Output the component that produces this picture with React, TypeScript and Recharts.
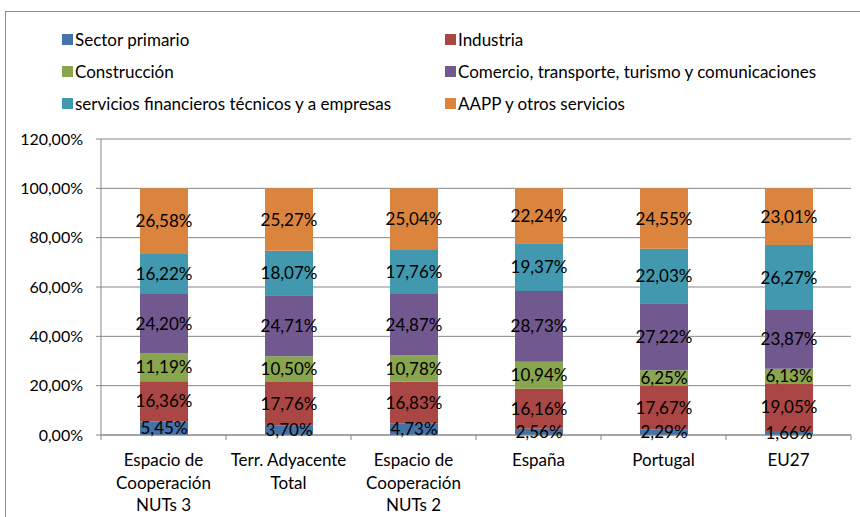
import { BarChart, Bar, XAxis, YAxis, CartesianGrid, LabelList } from "recharts";

const categories = [
    "Espacio de\nCooperación\nNUTs 3",
    "Terr. Adyacente\nTotal",
    "Espacio de\nCooperación\nNUTs 2",
    "España",
    "Portugal",
    "EU27",
];

const sectorPrimario = [5.45, 3.7, 4.73, 2.56, 2.29, 1.66];
const industria = [16.36, 17.76, 16.83, 16.16, 17.67, 19.05];
const construccion = [11.19, 10.5, 10.78, 10.94, 6.25, 6.13];
const comercio = [24.2, 24.71, 24.87, 28.73, 27.22, 23.87];
const servicios = [16.22, 18.07, 17.76, 19.37, 22.03, 26.27];
const aapp = [26.58, 25.27, 25.04, 22.24, 24.55, 23.01];

const yTicks = [0, 20, 40, 60, 80, 100, 120];

const series = [
    { key: "primario", name: "Sector primario", values: sectorPrimario, color: "#4572A7" },
    { key: "industria", name: "Industria", values: industria, color: "#AA4643" },
    { key: "construccion", name: "Construcción", values: construccion, color: "#89A54E" },
    { key: "comercio", name: "Comercio, transporte, turismo y comunicaciones", values: comercio, color: "#71588F" },
    { key: "servicios", name: "servicios financieros técnicos y a empresas", values: servicios, color: "#4198AF" },
    { key: "aapp", name: "AAPP y otros servicios", values: aapp, color: "#DB843D" },
];

const data = categories.map((cat, i) => {
    const row: Record<string, any> = { name: cat };
    series.forEach((s) => (row[s.key] = s.values[i]));
    return row;
});

// plot box (matches the Excel layout)
const W = 860;
const H = 517;
const PLOT_LEFT = 101;
const PLOT_RIGHT = 851;
const PLOT_TOP = 139;
const PLOT_BOTTOM = 435;
const BAND = (PLOT_RIGHT - PLOT_LEFT) / categories.length;

const FONT = "Lato, 'Liberation Sans', sans-serif";
const AXIS = "#878787";

const pct = (v: number) => v.toFixed(2).replace(".", ",") + "%";

const CategoryTick = (props: any) => {
    const { x, y, payload, index } = props;
    const lines = String(payload.value).split("\n");
    return (
        <g>
            <line x1={x - BAND / 2} x2={x - BAND / 2} y1={y} y2={y + 5} stroke={AXIS} />
            {index === categories.length - 1 && (
                <line x1={x + BAND / 2} x2={x + BAND / 2} y1={y} y2={y + 5} stroke={AXIS} />
            )}
            {lines.map((l, i) => (
                <text key={i} x={x} y={y + 31 + i * 22.5} textAnchor="middle" fontSize={17} fill="#000" fontFamily={FONT}>
                    {l}
                </text>
            ))}
        </g>
    );
};

export default function App() {
    return (
        <div style={{ position: "absolute", left: 0, top: 0, width: W, height: H, overflow: "hidden", background: "#fff", fontFamily: FONT }}>
            <div
                style={{
                    position: "absolute",
                    left: 5,
                    top: 11,
                    width: 1000,
                    height: 1000,
                    border: "1px solid #8c8c8c",
                }}
            />

            {series.map((s, i) => (
                <div
                    key={s.key}
                    style={{
                        position: "absolute",
                        left: i % 2 === 0 ? 62 : 445,
                        top: 29 + Math.floor(i / 2) * 32,
                        height: 20,
                        display: "flex",
                        alignItems: "center",
                        fontSize: 17,
                        color: "#000",
                        whiteSpace: "nowrap",
                    }}
                >
                    <span style={{ display: "inline-block", width: 11, height: 11, background: s.color, marginRight: 2 }} />
                    {s.name}
                </div>
            ))}

            <div style={{ position: "absolute", left: 0, top: 0 }}>
                <BarChart
                    width={W}
                    height={H}
                    data={data}
                    margin={{ top: PLOT_TOP, right: W - PLOT_RIGHT, left: 0, bottom: 0 }}
                    barSize={48}
                >
                    <CartesianGrid vertical={false} stroke={AXIS} />
                    <XAxis
                        dataKey="name"
                        height={H - PLOT_BOTTOM}
                        stroke={AXIS}
                        tickSize={0}
                        tickMargin={0}
                        interval={0}
                        tick={<CategoryTick />}
                    />
                    <YAxis
                        width={PLOT_LEFT}
                        domain={[0, 120]}
                        ticks={yTicks}
                        tickFormatter={pct}
                        stroke={AXIS}
                        tickSize={5}
                        tickMargin={13}
                        tick={{ fill: "#000", fontSize: 16, fontFamily: FONT }}
                        interval={0}
                    />
                    {series.map((s) => (
                        <Bar key={s.key} dataKey={s.key} name={s.name} stackId="a" fill={s.color} isAnimationActive={false}>
                            <LabelList
                                dataKey={s.key}
                                position="center"
                                formatter={(v: any) => pct(Number(v))}
                                fill="#000"
                                fontSize={17}
                                fontFamily={FONT}
                            />
                        </Bar>
                    ))}
                </BarChart>
            </div>
        </div>
    );
}
